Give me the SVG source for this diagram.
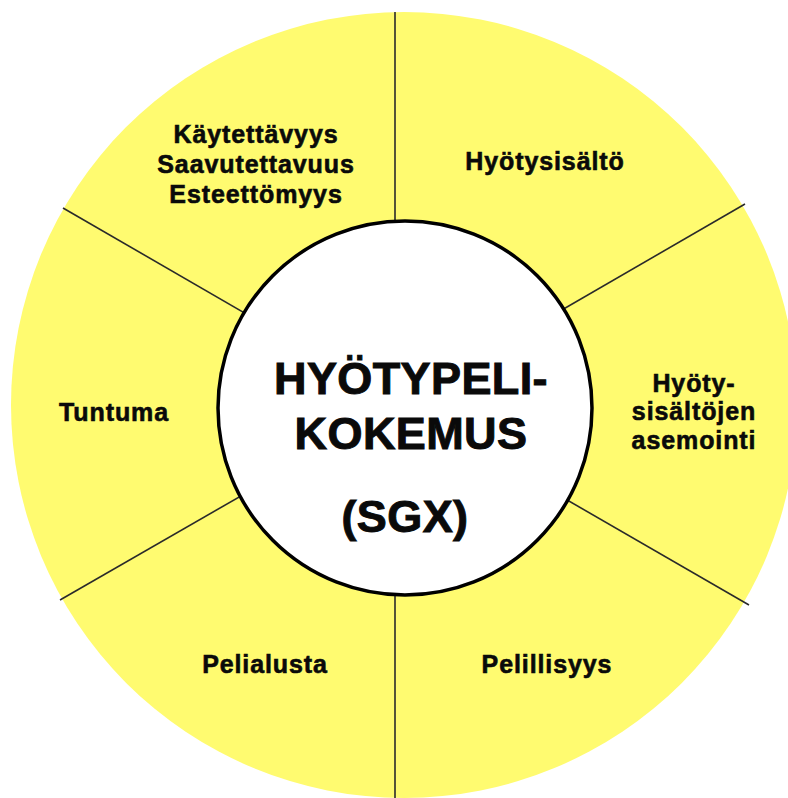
<svg xmlns="http://www.w3.org/2000/svg" width="788" height="798" viewBox="0 0 788 798">
  <style>
    .ring { fill: #FFFB70; }
    .hub { fill: #FFFFFF; stroke: #000000; stroke-width: 3.5; }
    .spoke { stroke: #2a2a2a; stroke-width: 1.6; fill: none; }
    .lbl { font-family: "Liberation Sans", Arial, sans-serif; font-weight: bold; font-size: 25px; fill: #0a0a0a; stroke: #0a0a0a; stroke-width: 0.6px; text-anchor: middle; letter-spacing: 0.9px; }
    .title { font-family: "Liberation Sans", Arial, sans-serif; font-weight: bold; font-size: 45px; fill: #0a0a0a; stroke: #0a0a0a; stroke-width: 1px; text-anchor: middle; letter-spacing: 0.4px; }
  </style>

  <rect width="788" height="798" fill="#FFFFFF"/>

  <!-- outer yellow disc -->
  <circle class="ring" cx="404" cy="405" r="393"/>

  <!-- dividing lines between the sectors -->
  <g id="connectors">
    <line class="spoke" x1="395" y1="12" x2="395" y2="300"/>
    <line class="spoke" x1="395" y1="520" x2="395" y2="798"/>
    <line class="spoke" x1="63" y1="208" x2="300" y2="345"/>
    <line class="spoke" x1="745" y1="204" x2="510" y2="340"/>
    <line class="spoke" x1="60" y1="600" x2="300" y2="462"/>
    <line class="spoke" x1="749" y1="605" x2="510" y2="467"/>
  </g>

  <!-- centre hub -->
  <g id="hub">
    <circle class="hub" cx="405" cy="408" r="187"/>
    <text class="title" x="411" y="394">HYÖTYPELI-</text>
    <text class="title" x="411" y="449">KOKEMUS</text>
    <text class="title" x="405" y="532">(SGX)</text>
  </g>

  <g id="kaytettavyys">
    <text class="lbl" x="256" y="143">Käytettävyys</text>
    <text class="lbl" x="256" y="173">Saavutettavuus</text>
    <text class="lbl" x="256" y="203">Esteettömyys</text>
  </g>

  <g id="hyotysisalto">
    <text class="lbl" x="545" y="170">Hyötysisältö</text>
  </g>

  <g id="asemointi">
    <text class="lbl" x="694" y="392">Hyöty-</text>
    <text class="lbl" x="694" y="420">sisältöjen</text>
    <text class="lbl" x="694" y="449">asemointi</text>
  </g>

  <g id="tuntuma">
    <text class="lbl" x="114" y="421">Tuntuma</text>
  </g>

  <g id="pelialusta">
    <text class="lbl" x="265" y="673">Pelialusta</text>
  </g>

  <g id="pelillisyys">
    <text class="lbl" x="547" y="673">Pelillisyys</text>
  </g>
</svg>
